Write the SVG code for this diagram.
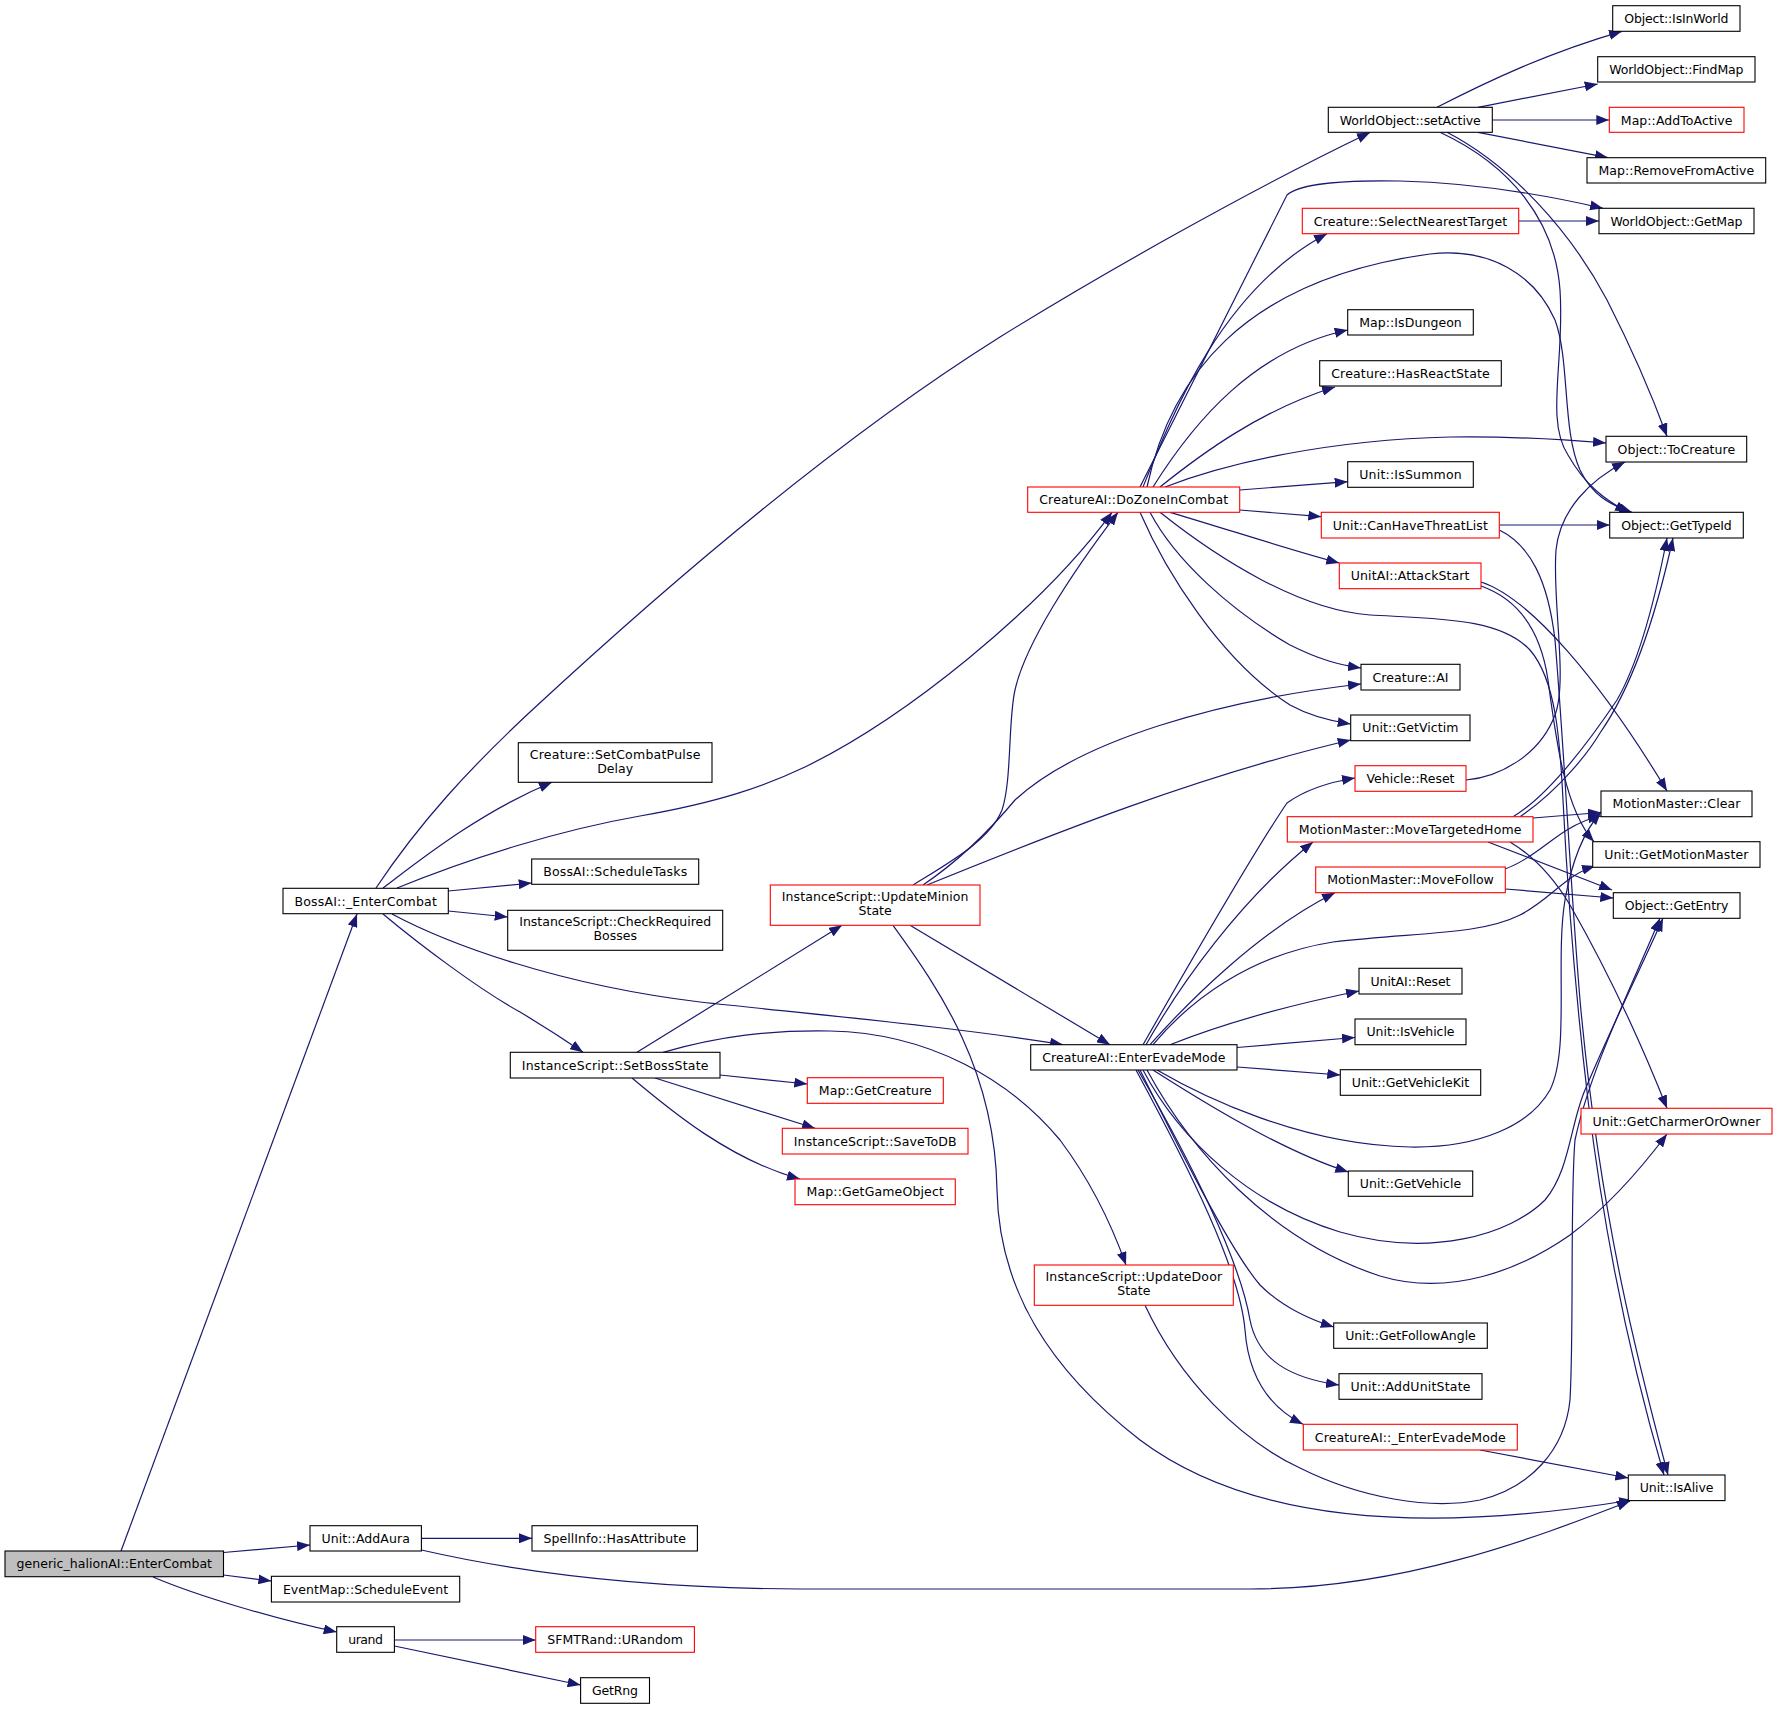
<svg xmlns="http://www.w3.org/2000/svg" width="1777" height="1709" viewBox="0 0 1777 1709">
<style>
.n rect{fill:#fff;stroke:#000;stroke-width:1.1}
.r rect{stroke:#ff0000}
.root rect{fill:#bfbfbf}
text{font-family:"DejaVu Sans","Liberation Sans",sans-serif;font-size:12.5px;text-anchor:middle;fill:#000}
.e path{fill:none;stroke:#191970;stroke-width:1.2;marker-end:url(#a)}
</style>
<defs>
<marker id="a" markerWidth="13" markerHeight="10" refX="13" refY="5" orient="auto" markerUnits="userSpaceOnUse"><path d="M0,0 L13,5 L0,10 z" fill="#191970"/></marker>
</defs>
<rect width="1777" height="1709" fill="#fff"/>
<g id="edges" class="e">
<path d="M121,1551 L357,914"/>
<path d="M223.5,1552.5 L310,1545"/>
<path d="M223.5,1575 L271.4,1581"/>
<path d="M153,1577 C200,1597 280,1620 336.7,1632"/>
<path d="M421.4,1538.3 L532,1538.3"/>
<path d="M421.4,1550 C500,1568 620,1588 800,1589 L1250,1589 C1400,1589 1530,1540 1630,1501"/>
<path d="M394.4,1640 L535.7,1640"/>
<path d="M394.4,1646 L580.6,1685"/>
<path d="M376,888 C420,822 470,768 530,712 C640,610 820,450 1000,337 C1100,275 1250,190 1370,132.5"/>
<path d="M383,888 C420,860 480,812 552,782.3"/>
<path d="M397,888 C470,858 560,830 640,816 C720,802 765,786 805,767 C905,718 1040,610 1112,512.3"/>
<path d="M448.3,891 L531.7,883"/>
<path d="M448.3,911 L507.7,917"/>
<path d="M392,914 C450,945 560,985 700,1002 C850,1018 960,1028 1063,1044.7"/>
<path d="M383,914 C420,945 480,990 520,1012 C545,1027 565,1040 583,1052.3"/>
<path d="M637,1052.3 L842,925.3"/>
<path d="M663,1052.3 C720,1036 770,1030 830,1031 C930,1033 1010,1080 1060,1140 C1090,1180 1110,1220 1126,1265"/>
<path d="M720,1075 L807.3,1084"/>
<path d="M655,1078 L815,1128.3"/>
<path d="M632,1078 C670,1110 730,1160 800,1179"/>
<path d="M913,885 C950,862 990,840 1002,810 C1012,780 1008,720 1015,690 C1025,645 1070,575 1118,512.3"/>
<path d="M923,885 C960,860 990,830 1015,800 C1080,740 1220,700 1361,684"/>
<path d="M927,885 C1050,835 1200,775 1350.7,740"/>
<path d="M910,925.3 L1110,1044.7"/>
<path d="M893,925.3 C940,990 995,1070 997,1190 C999,1290 1050,1370 1140,1440 C1260,1530 1450,1530 1632,1500"/>
<path d="M1143,487 C1170,420 1220,290 1327,233.7"/>
<path d="M1140,487 L1287,195 C1300,183 1350,180 1400,181 C1480,183 1550,196 1603,208.3"/>
<path d="M1147,487 C1170,380 1240,280 1430,254 C1490,247 1535,275 1555,320 C1570,360 1562,430 1580,470 C1592,495 1610,505 1632,512.3"/>
<path d="M1153,487 C1195,420 1255,350 1347.7,330"/>
<path d="M1160,487 C1200,455 1260,410 1335,387"/>
<path d="M1165,487 C1230,462 1330,440 1450,437 C1520,436 1570,440 1606,443"/>
<path d="M1239.7,490 L1347.7,481.7"/>
<path d="M1239.7,510 L1321.3,516.7"/>
<path d="M1170,512.3 C1230,530 1290,550 1339.3,563"/>
<path d="M1150,512.3 C1175,560 1230,610 1290,645 C1320,660 1340,665 1361,668"/>
<path d="M1140,512.3 C1165,570 1220,660 1290,705 C1310,716 1330,721 1350.7,724"/>
<path d="M1160,512.3 C1220,560 1300,610 1370,615 C1440,619 1500,618 1530,650 C1556,680 1560,740 1563,800 C1568,900 1576,1000 1588,1100 C1606,1250 1636,1380 1664,1475"/>
<path d="M1437,107.3 C1490,80 1550,52 1622,31.3"/>
<path d="M1478,107.3 L1597.7,84"/>
<path d="M1492.3,120 L1609.3,120"/>
<path d="M1478,132.3 L1608,157.7"/>
<path d="M1440,132.3 C1510,165 1555,220 1560,290 C1565,360 1545,420 1568,455 C1585,485 1605,500 1628,512.3"/>
<path d="M1447,132.3 C1510,165 1570,230 1607,300 C1630,345 1650,390 1667,436.3"/>
<path d="M1518.7,221 L1599,221"/>
<path d="M1499.3,525 L1609.7,525"/>
<path d="M1499.3,530 C1530,545 1548,580 1555,640 C1565,760 1570,880 1580,1000 C1600,1220 1640,1370 1668,1475"/>
<path d="M1481,582 C1530,598 1600,680 1667,791"/>
<path d="M1481,586 C1515,598 1540,625 1548,680 C1556,740 1565,810 1594,841.7"/>
<path d="M1466,780 C1500,777 1540,755 1555,715 C1568,680 1552,600 1556,550 C1560,510 1590,480 1625,462"/>
<path d="M1533,818 L1601,812.5"/>
<path d="M1513,816.7 C1550,795 1590,740 1617,700 C1640,660 1655,600 1667,538"/>
<path d="M1520,816.7 C1560,790 1590,750 1600,733 C1630,690 1655,620 1673,538"/>
<path d="M1488,842 L1612,890"/>
<path d="M1510,842 C1535,857 1555,880 1570,905 C1610,975 1640,1040 1667,1108.3"/>
<path d="M1505,869 C1530,860 1550,840 1567,830 C1580,822 1590,818 1601,816"/>
<path d="M1505.3,889 L1613.3,898"/>
<path d="M1143,1044.7 C1180,980 1255,850 1287,803 C1305,790 1330,782 1355,778"/>
<path d="M1146,1044.7 C1180,985 1240,900 1313,842"/>
<path d="M1150,1044.7 C1190,1000 1260,930 1335,892.7"/>
<path d="M1153,1044.7 C1190,1000 1250,955 1333,942 C1420,932 1480,935 1520,915 C1550,900 1565,875 1595,866"/>
<path d="M1170,1044.7 C1220,1025 1290,1005 1359,991"/>
<path d="M1237,1047.5 L1355,1037.5"/>
<path d="M1237,1067 L1340.3,1075"/>
<path d="M1153,1070 C1200,1100 1280,1150 1348.3,1172"/>
<path d="M1157,1070 C1200,1095 1300,1145 1410,1147 C1480,1148 1530,1125 1550,1090 C1570,1050 1555,960 1565,900 C1572,860 1585,830 1601,812"/>
<path d="M1143,1070 C1180,1140 1250,1205 1340,1232 C1430,1258 1510,1235 1545,1200 C1570,1170 1570,1125 1585,1090 C1610,1030 1640,970 1663,918.3"/>
<path d="M1147,1070 C1190,1150 1270,1240 1380,1276 C1450,1297 1520,1270 1570,1235 C1610,1205 1640,1170 1667,1134"/>
<path d="M1140,1070 C1180,1150 1230,1250 1260,1285 C1280,1305 1305,1318 1333.7,1327"/>
<path d="M1138,1070 C1190,1160 1240,1260 1250,1320 C1258,1360 1290,1378 1339,1385"/>
<path d="M1136,1070 C1190,1170 1240,1270 1245,1330 C1248,1370 1265,1405 1303,1424.3"/>
<path d="M1480,1450 L1628.3,1478"/>
<path d="M1145,1305.3 C1180,1380 1240,1440 1300,1468 C1360,1498 1430,1510 1480,1500 C1530,1488 1565,1450 1570,1400 C1574,1330 1570,1200 1575,1140 C1590,1070 1630,990 1660,918.3"/>
</g>
<g id="n1" class="n root"><rect x="5" y="1551" width="218.5" height="25.7"/><text x="114.25" y="1568.3" textLength="195.5">generic_halionAI::EnterCombat</text></g>
<g id="n2" class="n"><rect x="283" y="888.3" width="165.3" height="25.4"/><text x="365.65" y="905.6" textLength="142.3">BossAI::_EnterCombat</text></g>
<g id="n3" class="n"><rect x="310" y="1525.7" width="111.4" height="25.3"/><text x="365.7" y="1543" textLength="88.4">Unit::AddAura</text></g>
<g id="n4" class="n"><rect x="271.4" y="1576.3" width="188.3" height="25.7"/><text x="365.55" y="1593.6" textLength="165.3">EventMap::ScheduleEvent</text></g>
<g id="n5" class="n"><rect x="336.7" y="1626.7" width="57.7" height="25.6"/><text x="365.55" y="1644" textLength="34.7">urand</text></g>
<g id="n6" class="n"><rect x="532" y="1525.7" width="165.4" height="25.3"/><text x="614.7" y="1543" textLength="142.4">SpellInfo::HasAttribute</text></g>
<g id="n7" class="n r"><rect x="535.7" y="1626.7" width="158.7" height="25.6"/><text x="615.05" y="1644" textLength="135.7">SFMTRand::URandom</text></g>
<g id="n8" class="n"><rect x="580.6" y="1677.7" width="68.9" height="25.6"/><text x="615.05" y="1695" textLength="45.9">GetRng</text></g>
<g id="n9" class="n"><rect x="518.3" y="742.7" width="193.7" height="39.6"/><text x="615.15" y="758.8" textLength="170.7">Creature::SetCombatPulse</text><text x="615.15" y="772.8">Delay</text></g>
<g id="n10" class="n"><rect x="531.7" y="859" width="167" height="25.3"/><text x="615.2" y="876.3" textLength="144">BossAI::ScheduleTasks</text></g>
<g id="n11" class="n"><rect x="507.7" y="910.3" width="215" height="40"/><text x="615.2" y="926.4" textLength="192">InstanceScript::CheckRequired</text><text x="615.2" y="940.4">Bosses</text></g>
<g id="n12" class="n"><rect x="510.3" y="1052.3" width="209.7" height="25.7"/><text x="615.15" y="1069.6" textLength="186.7">InstanceScript::SetBossState</text></g>
<g id="n13" class="n r"><rect x="770.3" y="885" width="209.7" height="40.3"/><text x="875.15" y="901.1" textLength="186.7">InstanceScript::UpdateMinion</text><text x="875.15" y="915.1">State</text></g>
<g id="n14" class="n"><rect x="1030.7" y="1044.7" width="206.3" height="25.3"/><text x="1133.85" y="1062" textLength="183.3">CreatureAI::EnterEvadeMode</text></g>
<g id="n15" class="n r"><rect x="807.3" y="1077.7" width="136" height="25.6"/><text x="875.3" y="1095" textLength="113">Map::GetCreature</text></g>
<g id="n16" class="n r"><rect x="782.3" y="1128.3" width="185.7" height="25.7"/><text x="875.15" y="1145.6" textLength="162.7">InstanceScript::SaveToDB</text></g>
<g id="n17" class="n r"><rect x="795" y="1179" width="160.3" height="25.7"/><text x="875.15" y="1196.3" textLength="137.3">Map::GetGameObject</text></g>
<g id="n18" class="n r"><rect x="1027.7" y="487" width="212" height="25.3"/><text x="1133.7" y="504.3" textLength="189">CreatureAI::DoZoneInCombat</text></g>
<g id="n19" class="n r"><rect x="1034.3" y="1265" width="199" height="40.3"/><text x="1133.8" y="1281.1" textLength="176.5">InstanceScript::UpdateDoor</text><text x="1133.8" y="1295.1">State</text></g>
<g id="n20" class="n"><rect x="1328.3" y="107.3" width="164" height="25"/><text x="1410.3" y="124.6" textLength="141">WorldObject::setActive</text></g>
<g id="n21" class="n r"><rect x="1302.3" y="208.3" width="216.4" height="25.4"/><text x="1410.5" y="225.6" textLength="193.4">Creature::SelectNearestTarget</text></g>
<g id="n22" class="n"><rect x="1347.7" y="309.7" width="125.6" height="25.3"/><text x="1410.5" y="327" textLength="102.6">Map::IsDungeon</text></g>
<g id="n23" class="n"><rect x="1319.7" y="360.7" width="181.6" height="25.3"/><text x="1410.5" y="378" textLength="158.6">Creature::HasReactState</text></g>
<g id="n24" class="n"><rect x="1347.7" y="461.7" width="125.6" height="25.6"/><text x="1410.5" y="479" textLength="102.6">Unit::IsSummon</text></g>
<g id="n25" class="n r"><rect x="1321.3" y="512.3" width="178" height="25.7"/><text x="1410.3" y="529.6" textLength="155">Unit::CanHaveThreatList</text></g>
<g id="n26" class="n r"><rect x="1339.3" y="563" width="141.7" height="25.7"/><text x="1410.15" y="580.3" textLength="118.7">UnitAI::AttackStart</text></g>
<g id="n27" class="n"><rect x="1361" y="664.3" width="99" height="25.7"/><text x="1410.5" y="681.6" textLength="76">Creature::AI</text></g>
<g id="n28" class="n"><rect x="1350.7" y="715" width="119.3" height="25.7"/><text x="1410.35" y="732.3" textLength="96.3">Unit::GetVictim</text></g>
<g id="n29" class="n r"><rect x="1355" y="765.7" width="111" height="25.6"/><text x="1410.5" y="783" textLength="88">Vehicle::Reset</text></g>
<g id="n30" class="n r"><rect x="1287.3" y="816.7" width="245.7" height="25.3"/><text x="1410.15" y="834" textLength="222.7">MotionMaster::MoveTargetedHome</text></g>
<g id="n31" class="n r"><rect x="1315.7" y="867" width="189.6" height="25.7"/><text x="1410.5" y="884.3" textLength="166.6">MotionMaster::MoveFollow</text></g>
<g id="n32" class="n"><rect x="1359" y="968.3" width="103" height="25.7"/><text x="1410.5" y="985.6" textLength="80">UnitAI::Reset</text></g>
<g id="n33" class="n"><rect x="1355" y="1019" width="111" height="25.7"/><text x="1410.5" y="1036.3" textLength="88">Unit::IsVehicle</text></g>
<g id="n34" class="n"><rect x="1340.3" y="1069.7" width="140.4" height="25.6"/><text x="1410.5" y="1087" textLength="117.4">Unit::GetVehicleKit</text></g>
<g id="n35" class="n"><rect x="1348.3" y="1171" width="124.4" height="25.3"/><text x="1410.5" y="1188.3" textLength="101.4">Unit::GetVehicle</text></g>
<g id="n36" class="n"><rect x="1333.7" y="1323" width="153.6" height="25.3"/><text x="1410.5" y="1340.3" textLength="130.6">Unit::GetFollowAngle</text></g>
<g id="n37" class="n"><rect x="1339" y="1373.7" width="143" height="25.6"/><text x="1410.5" y="1391" textLength="120">Unit::AddUnitState</text></g>
<g id="n38" class="n r"><rect x="1303.3" y="1424.3" width="214" height="25.7"/><text x="1410.3" y="1441.6" textLength="191">CreatureAI::_EnterEvadeMode</text></g>
<g id="n39" class="n"><rect x="1612.7" y="5.7" width="127.3" height="25.6"/><text x="1676.35" y="23" textLength="104.3">Object::IsInWorld</text></g>
<g id="n40" class="n"><rect x="1597.7" y="56.7" width="157.3" height="25.3"/><text x="1676.35" y="74" textLength="134.3">WorldObject::FindMap</text></g>
<g id="n41" class="n r"><rect x="1609.3" y="107.3" width="134.7" height="25"/><text x="1676.65" y="124.6" textLength="111.7">Map::AddToActive</text></g>
<g id="n42" class="n"><rect x="1587" y="157.7" width="178.7" height="25.3"/><text x="1676.35" y="175" textLength="155.7">Map::RemoveFromActive</text></g>
<g id="n43" class="n"><rect x="1599" y="208.3" width="155" height="25.4"/><text x="1676.5" y="225.6" textLength="132">WorldObject::GetMap</text></g>
<g id="n44" class="n"><rect x="1606" y="436.3" width="140.7" height="25.7"/><text x="1676.35" y="453.6" textLength="117.7">Object::ToCreature</text></g>
<g id="n45" class="n"><rect x="1609.7" y="512.3" width="133.6" height="25.7"/><text x="1676.5" y="529.6" textLength="110.6">Object::GetTypeId</text></g>
<g id="n46" class="n"><rect x="1601" y="791" width="151" height="25.7"/><text x="1676.5" y="808.3" textLength="128">MotionMaster::Clear</text></g>
<g id="n47" class="n"><rect x="1592.7" y="841.7" width="167.3" height="25.6"/><text x="1676.35" y="859" textLength="144.3">Unit::GetMotionMaster</text></g>
<g id="n48" class="n"><rect x="1613.3" y="892.7" width="126.7" height="25.6"/><text x="1676.65" y="910" textLength="103.7">Object::GetEntry</text></g>
<g id="n49" class="n r"><rect x="1581" y="1108.3" width="191" height="25.7"/><text x="1676.5" y="1125.6" textLength="168">Unit::GetCharmerOrOwner</text></g>
<g id="n50" class="n"><rect x="1628.3" y="1475" width="96.7" height="25.6"/><text x="1676.65" y="1492.3" textLength="73.7">Unit::IsAlive</text></g>
</svg>
